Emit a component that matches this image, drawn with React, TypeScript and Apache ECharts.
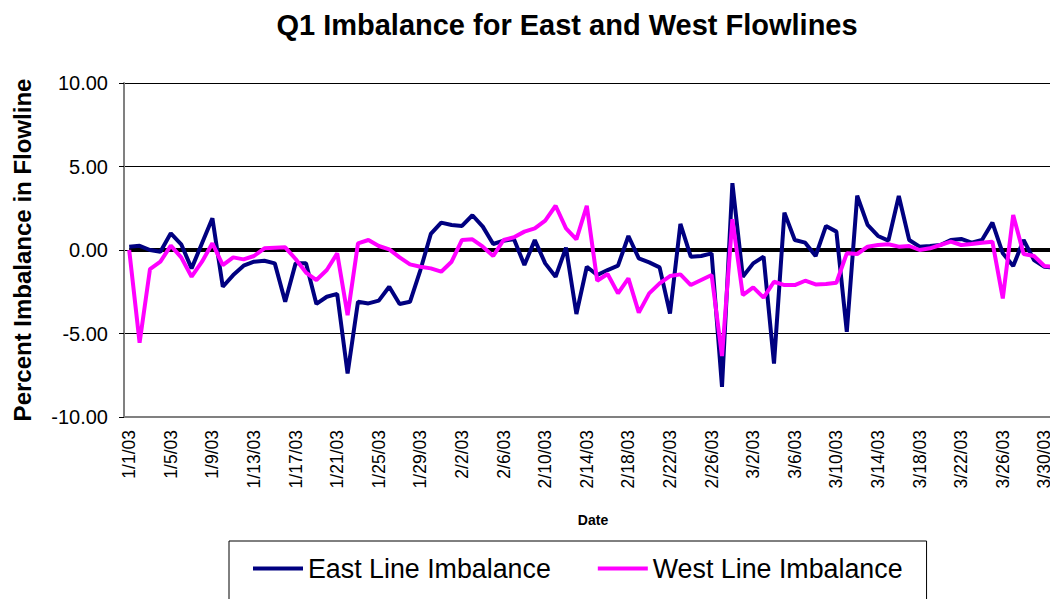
import React, { useEffect, useRef } from "react";
import * as echarts from "echarts";

const monthLengths = [31, 28, 31];
const yearSuffix = "03";
const dates: string[] = [];
monthLengths.forEach((len, m) => {
  for (let d = 1; d <= len; d++) dates.push(`${m + 1}/${d}/${yearSuffix}`);
});

const eastValues = [
  0.2, 0.25, 0, -0.1, 1.0, 0.34, -1.1, 0.4, 1.9, -2.2, -1.5, -0.94, -0.7, -0.64, -0.8, -3.1, -0.8, -0.8,
  -3.23, -2.8, -2.63, -7.4, -3.1, -3.2, -3.03, -2.2, -3.23, -3.1, -1.2, 0.96, 1.64, 1.5, 1.44, 2.08, 1.4, 0.36,
  0.56, 0.64, -0.9, 0.6, -0.8, -1.6, 0.14, -3.83, -1.0, -1.5, -1.2, -0.94, 0.84, -0.5, -0.74, -1.04, -3.8,
  1.56, -0.4, -0.36, -0.2, -8.2, 4.0, -1.6, -0.8, -0.4, -6.8, 2.24, 0.6, 0.44, -0.36, 1.44, 1.1, -4.9,
  3.25, 1.5, 0.84, 0.56, 3.23, 0.6, 0.2, 0.24, 0.3, 0.6, 0.66, 0.44, 0.6, 1.64, -0.2, -0.96, 0.6, -0.6, -1.0, -1.05,
];

const westValues = [
  0, -5.55, -1.14, -0.7, 0.26, -0.44, -1.6, -0.7, 0.4, -0.9, -0.44, -0.56, -0.36, 0.1, 0.14, 0.16, -0.54, -1.35,
  -1.8, -1.2, -0.2, -3.9, 0.4, 0.6, 0.24, 0.04, -0.44, -0.86, -1.0, -1.1, -1.3, -0.7, 0.6, 0.64, 0.2, -0.36,
  0.6, 0.76, 1.1, 1.3, 1.76, 2.65, 1.3, 0.64, 2.65, -1.84, -1.44, -2.6, -1.7, -3.75, -2.6, -2.0, -1.56,
  -1.46, -2.1, -1.8, -1.5, -6.35, 1.84, -2.7, -2.24, -2.85, -1.9, -2.1, -2.1, -1.84, -2.06, -2.04, -1.96, -0.2,
  -0.24, 0.2, 0.3, 0.34, 0.2, 0.24, 0, 0.1, 0.3, 0.5, 0.3, 0.36, 0.44, 0.5, -2.9, 2.1, -0.24, -0.36, -0.96, -1.0,
];

const zeroLine = dates.map(() => 0);

const seriesNames = ["East Line Imbalance", "West Line Imbalance"];
const titleText = "Q1 Imbalance for East and West Flowlines";
const yAxisTitle = "Percent Imbalance in Flowline";
const xAxisTitle = "Date";

const FONT = "'Liberation Sans', Arial, sans-serif";

export default function App() {
  const ref = useRef<HTMLDivElement>(null);
  useEffect(() => {
    if (!ref.current) return;
    const chart = echarts.init(ref.current, undefined, { renderer: "svg" });
    chart.setOption({
      animation: false,
      backgroundColor: "#fff",
      textStyle: { fontFamily: FONT },
      grid: { left: 124, top: 83, width: 936, height: 334, containLabel: false },
      graphic: [
        {
          type: "text",
          x: 567,
          y: 25,
          style: {
            text: titleText,
            font: `bold 29px ${FONT}`,
            fill: "#000",
            textAlign: "center",
            textVerticalAlign: "middle",
          },
        },
        {
          type: "text",
          x: 22,
          y: 250,
          rotation: Math.PI / 2,
          style: {
            text: yAxisTitle,
            font: `bold 24px ${FONT}`,
            fill: "#000",
            textAlign: "center",
            textVerticalAlign: "middle",
          },
        },
        {
          type: "text",
          x: 593,
          y: 520,
          style: {
            text: xAxisTitle,
            font: `bold 14px ${FONT}`,
            fill: "#000",
            textAlign: "center",
            textVerticalAlign: "middle",
          },
        },
      ],
      legend: {
        data: seriesNames,
        left: 229,
        top: 541,
        padding: [14, 24, 30, 24],
        borderColor: "#000",
        borderWidth: 1,
        backgroundColor: "#fff",
        icon: "rect",
        itemWidth: 50,
        itemHeight: 4,
        itemGap: 47,
        textStyle: { fontSize: 26.8, color: "#000", fontFamily: FONT },
      },
      xAxis: {
        type: "category",
        data: dates,
        boundaryGap: true,
        axisLine: { show: true, onZero: false, lineStyle: { color: "#808080", width: 2 } },
        axisTick: { show: false },
        axisLabel: {
          interval: 3,
          rotate: 90,
          margin: 13,
          fontSize: 17.5,
          color: "#000",
          fontFamily: FONT,
        },
        splitLine: { show: false },
      },
      yAxis: {
        type: "value",
        min: -10,
        max: 10,
        interval: 5,
        axisLine: { show: true, lineStyle: { color: "#808080", width: 2 } },
        axisTick: { show: true, length: 5, lineStyle: { color: "#000" } },
        axisLabel: {
          margin: 16,
          fontSize: 20,
          color: "#000",
          fontFamily: FONT,
          formatter: (v: number) => v.toFixed(2),
        },
        splitLine: { show: true, lineStyle: { color: "#000", width: 1 } },
      },
      series: [
        {
          name: "zero",
          type: "line",
          data: zeroLine,
          showSymbol: false,
          silent: true,
          lineStyle: { color: "#000", width: 4 },
          itemStyle: { color: "#000" },
          z: 1,
        },
        {
          name: seriesNames[0],
          type: "line",
          data: eastValues,
          showSymbol: false,
          lineStyle: { color: "#000080", width: 4 },
          itemStyle: { color: "#000080" },
          z: 2,
        },
        {
          name: seriesNames[1],
          type: "line",
          data: westValues,
          showSymbol: false,
          lineStyle: { color: "#FF00FF", width: 4 },
          itemStyle: { color: "#FF00FF" },
          z: 3,
        },
      ],
    });
    return () => chart.dispose();
  }, []);
  return (
    <div style={{ position: "fixed", left: 0, top: 0, width: 1050, height: 599, overflow: "hidden" }}>
      <div ref={ref} style={{ position: "absolute", left: 0, top: 0, width: 1070, height: 599 }} />
    </div>
  );
}
